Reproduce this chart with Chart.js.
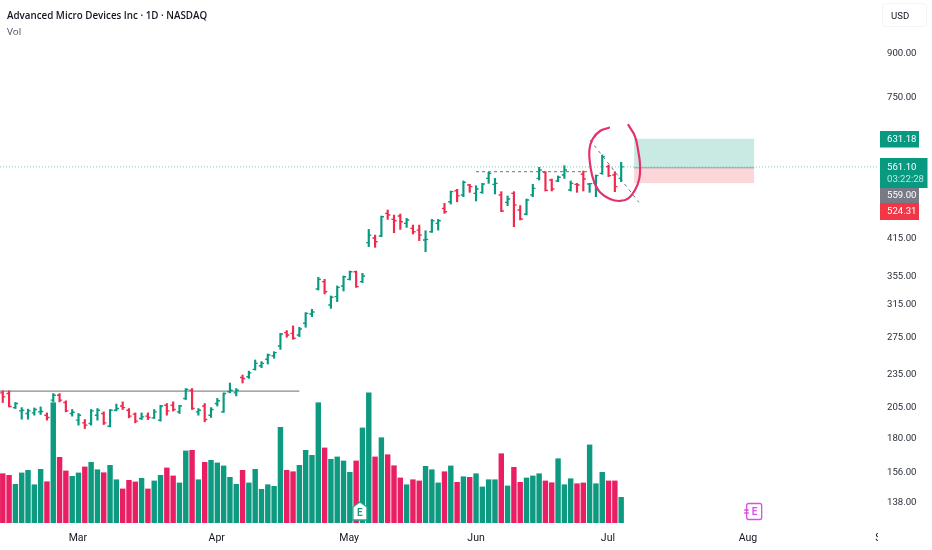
<html>
<head>
  <title>Advanced Micro Devices Inc</title>
  <script src="https://cdn.jsdelivr.net/npm/chart.js"></script>
  <style>
    body { margin: 0; background: white; overflow: hidden; }
    #wrap { position: relative; width: 932px; height: 550px; }
    #titolo { position: absolute; left: 7px; top: 9px; font: 600 9.8px/14px "Open Sans", sans-serif; color: #131722; white-space: nowrap; }
    #vol { position: absolute; left: 7px; top: 25px; font: 400 9.8px/14px "Open Sans", sans-serif; color: #4a4e59; }
    #usd { position: absolute; left: 882px; top: 3px; width: 45px; height: 24px; box-sizing: border-box; padding-left: 8px;
           border: 1px solid #f3f4f8; border-radius: 4px; font: 400 9.6px/23px Roboto, sans-serif; color: #131722; }
  </style>
</head>
<body>
  <div id="wrap">
    <canvas id="grafico" width="932" height="550"></canvas>
    <div id="titolo">Advanced Micro Devices Inc · 1D · NASDAQ</div>
    <div id="vol">Vol</div>
    <div id="usd">USD</div>
  </div>
  <script>
    // daily bars
    var opens = [218,217.4,205,202.2,200,200.5,201.4,198.6,211.5,215.9,209.4,200,194.5,192.3,191.8,198.6,200,189.6,202.8,206.4,202.8,199.5,195.9,197.8,196.4,194.5,207,207,201.4,213,220.5,201.4,206.4,198.6,208.5,201.4,219,218,232.5,233.2,
      240.6,244.3,251,254.7,265.2,280.5,279.7,277.8,291.7,303.3,336.7,347.2,314.9,326.1,341,350.6,361.9,347.2,408.7,416.7,420.2,462,450.5,456.9,443,433.9,430.8,413.3,427.8,443,471.8,485.1,507.9,
      498.9,520.2,502.4,504.5,534.9,521.6,498.9,483.8,502.4,468.6,460.2,498.9,534.9,548.5,531.2,529,542.5,509.5,521.6,544,522.3,523.8,546.2,561.7,542.5,534.9];
    var highs = [219.9,219.9,209.4,205,203.7,204.7,205.6,200.5,217.4,217.4,210.9,203.4,200,195,203.4,204.2,201.4,203.4,208,210,204.2,200.5,200.5,200.5,203.4,207,208.5,210,207,222,222,204.2,208.5,205,213,218,227.2,222,234.9,238.8,
      250.2,248.5,256.5,259,279.7,282.9,288.5,286.9,305,309.3,353.5,350.6,327,341,355.5,363,363,359.5,432,421.9,456.9,468.5,458.8,460.7,452.4,440,440,429.6,450.5,450.5,481.7,507.3,510.9,
      529,521.6,518.7,523.8,548.5,534.9,505.9,496.8,505.9,477.2,490.6,521.6,560.1,550,533.4,540.3,564,529,523.8,551.5,523.8,542.5,589.8,565.6,550,572];
    var lows = [209.4,205.6,204.2,195.3,195.3,198.6,199.2,194.5,210,210,201.4,197.8,190.5,187.8,190.5,194.5,191,189.1,202.2,203.4,196.4,192.3,195,195,195.9,193.7,198.6,202,200,212,203.4,198.6,193.2,196.7,206.4,200.9,218,215.3,227.2,231.6,
      239.9,242.3,246,252,261.5,275.1,272.8,275.9,286.9,299.9,335.3,329.8,310.5,319.4,333.9,349.6,339,345.8,401.9,400.8,419,450.5,426,432,435.7,423.7,412.2,393.6,426.6,430.8,462,480.4,485,
      495.4,504.5,486.6,502.4,523.8,501,465.3,477.2,437,449.4,458.9,495.4,531.2,507.3,507.3,527.5,534.9,507.3,504.5,507.3,504.5,495.4,544,538.8,505.9,527.5];
    var closes = [214.4,206,208.5,202.8,202.2,203.4,201.7,196.7,215.9,211.5,202.2,201.1,198.6,190.5,202.2,202.8,192.3,202.8,204.2,205,197.8,193.7,197.2,196.7,201.4,206.4,202.2,203.4,206.4,221.1,204.2,202.8,195,203.4,210.9,217.4,220.5,220.5,231.6,237.1,
      246.7,246.7,255.4,258,279,277.8,274,284.9,304.1,305.8,350.6,332.9,325.2,339,354.5,361.9,340,355.5,421.9,410.4,455.6,458.8,448,446.2,449.3,427.8,421.9,414.4,448,448,465,505.9,497,
      526,516.6,511.6,522.3,546.2,523.8,466.6,490.6,478.5,451.3,488.6,513,553.9,508.7,511.6,537.2,553.9,523.8,520.2,533.4,523.2,541,585.7,541,516.6,561.1];
    var volumes = [24.8,24,19.5,25.2,26.5,19.3,27,20.8,60.3,33,26.2,23.5,25.2,28.2,30.5,26.8,25.3,29,21.8,17.2,21.5,20.7,22.5,17.2,21.2,24,27.7,23.7,20.2,36.2,36.5,21.8,30.5,31.5,30.2,28.7,23,19.5,26.5,20.2,
      27,17,19.3,18.5,48,26.5,25.8,29,36.5,34,60.3,37.7,32,33.2,31.2,25.5,31.2,47.7,65.2,33.2,42.8,34.3,28.8,22.7,19.3,21.8,21.2,28.5,26.8,20.2,25.8,28.7,20.5,
      23.3,23,24.8,18.2,21.8,21.8,34.8,18.7,28,20.5,22.7,23.7,24.8,21.2,20.3,32.3,19.3,22.3,19.8,20.2,39.2,19.8,25.5,21.2,21.2,13];

    var monthNames = ["Mar","Apr","May","Jun","Jul","Aug","Sep"];
    var monthBars = [11.9,33.9,54.9,75,95.9,118.1,139.65];
    var priceTicks = [900,750,415,355,315,275,235,205,180,156,138];

    // drawings on the chart
    var lastPrice = 561.10;
    var supportLevel = 219.7;
    var supportEnd = 47;
    var breakLevel = 550;
    var breakBars = [75,93.1];
    var trendBars = [93.06,100.8];
    var trendPrices = [628,484];
    var positionBars = [100.05,119.07];
    var target = 631.18;
    var entry = 559;
    var stop = 524.31;
    var circleBars = [96.07,94.65,93.48,92.96,93.17,93.7,94.65,96.23,97.82,99.14,100.2,100.88,100.99,100.72,100.2,99.14];
    var circlePrices = [661.2,652,630.6,602,557.8,527.5,504.5,490.6,486.6,492,509.5,534.9,565.6,598.1,636.8,668.6];
    var earningsBars = [56.6,119];

    var verde = "#089981";
    var rosa = "#ea1e63";
    var rosso = "#ef2a4f";

    function coppie(xs, ys) {
      return xs.map(function (x, i) { return {x: x, y: ys[i]}; });
    }
    function sali(i) {
      return closes[i] >= opens[i];
    }
    var indici = opens.map(function (v, i) { return i; });

    function etichetta(ctx, testo, x, y, w, h, sfondo, colore) {
      ctx.fillStyle = sfondo;
      ctx.fillRect(x, y, w, h);
      ctx.fillStyle = colore;
      ctx.font = "9.6px Roboto";
      ctx.textAlign = "left";
      ctx.textBaseline = "middle";
      ctx.fillText(testo, x + 7, y + h / 2 + 0.5);
    }

    var disegni = {
      id: "disegni",
      beforeDatasetsDraw: function (chart) {
        var ctx = chart.ctx, xs = chart.scales.x, ys = chart.scales.y;
        // the x labels run under the price axis, cut them at its edge
        ctx.fillStyle = "white";
        ctx.fillRect(xs.right, xs.top, 60, 30);
        var x0 = xs.getPixelForValue(positionBars[0]), x1 = xs.getPixelForValue(positionBars[1]);
        var yT = ys.getPixelForValue(target), yE = ys.getPixelForValue(entry), yS = ys.getPixelForValue(stop);
        ctx.fillStyle = "rgba(8,153,129,0.22)";
        ctx.fillRect(x0, yT, x1 - x0, yE - yT);
        ctx.fillStyle = "rgba(242,54,69,0.2)";
        ctx.fillRect(x0, yE, x1 - x0, yS - yE);
      },
      afterDatasetsDraw: function (chart) {
        var ctx = chart.ctx, xs = chart.scales.x, ys = chart.scales.y;
        ctx.save();
        ctx.lineWidth = 1.4;
        indici.forEach(function (i) {
          var x = xs.getPixelForValue(i);
          ctx.strokeStyle = sali(i) ? verde : rosso;
          ctx.beginPath();
          ctx.moveTo(x - 2.6, ys.getPixelForValue(opens[i]));
          ctx.lineTo(x, ys.getPixelForValue(opens[i]));
          ctx.moveTo(x, ys.getPixelForValue(closes[i]));
          ctx.lineTo(x + 2.6, ys.getPixelForValue(closes[i]));
          ctx.stroke();
        });

        // earnings flags
        var xE = xs.getPixelForValue(earningsBars[0]);
        ctx.fillStyle = "white";
        ctx.strokeStyle = "#2aa68f";
        ctx.lineWidth = 1.3;
        ctx.beginPath();
        ctx.moveTo(xE, 502);
        ctx.lineTo(xE + 7, 507);
        ctx.lineTo(xE + 7, 520);
        ctx.lineTo(xE - 7, 520);
        ctx.lineTo(xE - 7, 507);
        ctx.closePath();
        ctx.fill();
        ctx.stroke();
        ctx.fillStyle = "#1b9a83";
        ctx.font = "600 10px Roboto";
        ctx.textAlign = "center";
        ctx.textBaseline = "middle";
        ctx.fillText("E", xE, 513);

        var xP = xs.getPixelForValue(earningsBars[1]);
        ctx.strokeStyle = "#d94fe6";
        ctx.beginPath();
        ctx.roundRect(xP - 7, 503.5, 15, 16, 2);
        ctx.moveTo(xP - 9.5, 510);
        ctx.lineTo(xP - 5, 510);
        ctx.moveTo(xP - 9.5, 513);
        ctx.lineTo(xP - 5, 513);
        ctx.stroke();
        ctx.fillStyle = "#d94fe6";
        ctx.fillText("E", xP + 1, 512);

        // price tags on the axis
        etichetta(ctx, target.toFixed(2), 880, 131, 39, 16.5, verde, "white");
        ctx.fillStyle = verde;
        ctx.fillRect(880, 158, 47.5, 30);
        ctx.fillStyle = "white";
        ctx.font = "9.6px Roboto";
        ctx.textAlign = "left";
        ctx.textBaseline = "middle";
        ctx.fillText(lastPrice.toFixed(2), 887, 167.5);
        ctx.fillStyle = "#bfe6de";
        ctx.fillText("03:22:28", 887, 180);
        etichetta(ctx, entry.toFixed(2), 880, 188, 39, 15, "#787b86", "white");
        etichetta(ctx, stop.toFixed(2), 880, 203, 39, 17, "#f23645", "white");
        ctx.restore();
      }
    };

    new Chart(document.getElementById("grafico"), {
      plugins: [disegni],
      data: {
        datasets: [
          {type: "line", order: 0, data: coppie(circleBars, circlePrices), borderColor: "#e4316c", borderWidth: 2.2, pointRadius: 0, tension: 0.4, fill: false, yAxisID: "y", borderCapStyle: "round"},
          {type: "bar", order: 1, data: indici.map(function (i) { return {x: i, y: [lows[i], highs[i]]}; }),
            backgroundColor: indici.map(function (i) { return sali(i) ? verde : rosso; }),
            grouped: false, barPercentage: 1, categoryPercentage: 1, maxBarThickness: 1.5, yAxisID: "y"},
          {type: "line", order: 2, data: coppie(trendBars, trendPrices), borderColor: "#6e7079", borderWidth: 1, borderDash: [3,4], pointRadius: 0, yAxisID: "y"},
          {type: "line", order: 2, data: coppie(breakBars, [breakLevel, breakLevel]), borderColor: "#6e7079", borderWidth: 1, borderDash: [3,3], pointRadius: 0, yAxisID: "y"},
          {type: "line", order: 2, data: coppie([-0.44, supportEnd], [supportLevel, supportLevel]), borderColor: "#8a8a8a", borderWidth: 1.2, pointRadius: 0, yAxisID: "y"},
          {type: "line", order: 3, data: coppie(positionBars, [entry, entry]), borderColor: "#9b9ba0", borderWidth: 1, pointRadius: 0, yAxisID: "y"},
          {type: "line", order: 3, data: coppie([-0.44, 138.7], [lastPrice, lastPrice]), borderColor: "#7fcabb", borderWidth: 1, borderDash: [1,2], pointRadius: 0, yAxisID: "y"},
          {type: "bar", order: 4, data: indici.map(function (i) { return {x: i, y: volumes[i]}; }),
            backgroundColor: indici.map(function (i) { return sali(i) ? "#0d9a80" : rosa; }),
            grouped: false, barPercentage: 0.86, categoryPercentage: 1, yAxisID: "v"}
        ]
      },
      options: {
        responsive: false,
        animation: false,
        events: [],
        layout: {padding: 0},
        plugins: {legend: {display: false}, tooltip: {enabled: false}, title: {display: false}},
        scales: {
          x: {
            type: "linear",
            offset: false,
            min: -0.44,
            max: 138.7,
            grid: {display: false, drawTicks: false},
            border: {display: false},
            afterBuildTicks: function (scale) {
              scale.ticks = monthBars.map(function (v) { return {value: v}; });
            },
            afterFit: function (scale) {
              scale.height = 27;
              scale.paddingLeft = 0;
              scale.paddingRight = 0;
            },
            ticks: {
              autoSkip: false,
              maxRotation: 0,
              padding: 9,
              color: "#131722",
              font: {family: "Roboto", size: 10.5},
              callback: function (v, i) { return monthNames[i]; }
            }
          },
          y: {
            type: "logarithmic",
            position: "right",
            min: 126.5,
            max: 1128,
            bounds: "data",
            grid: {display: false, drawTicks: false},
            border: {display: false},
            afterBuildTicks: function (scale) {
              scale.ticks = priceTicks.map(function (v) { return {value: v}; });
            },
            afterFit: function (scale) {
              scale.width = 54;
              scale.paddingTop = 0;
              scale.paddingBottom = 0;
            },
            ticks: {
              autoSkip: false,
              padding: 9,
              color: "#2a2e39",
              font: {family: "Roboto", size: 9.6},
              callback: function (v) { return Number(v).toFixed(2); }
            }
          },
          v: {type: "linear", display: false, min: 0, max: 261.5}
        }
      }
    });
  </script>
</body>
</html>
